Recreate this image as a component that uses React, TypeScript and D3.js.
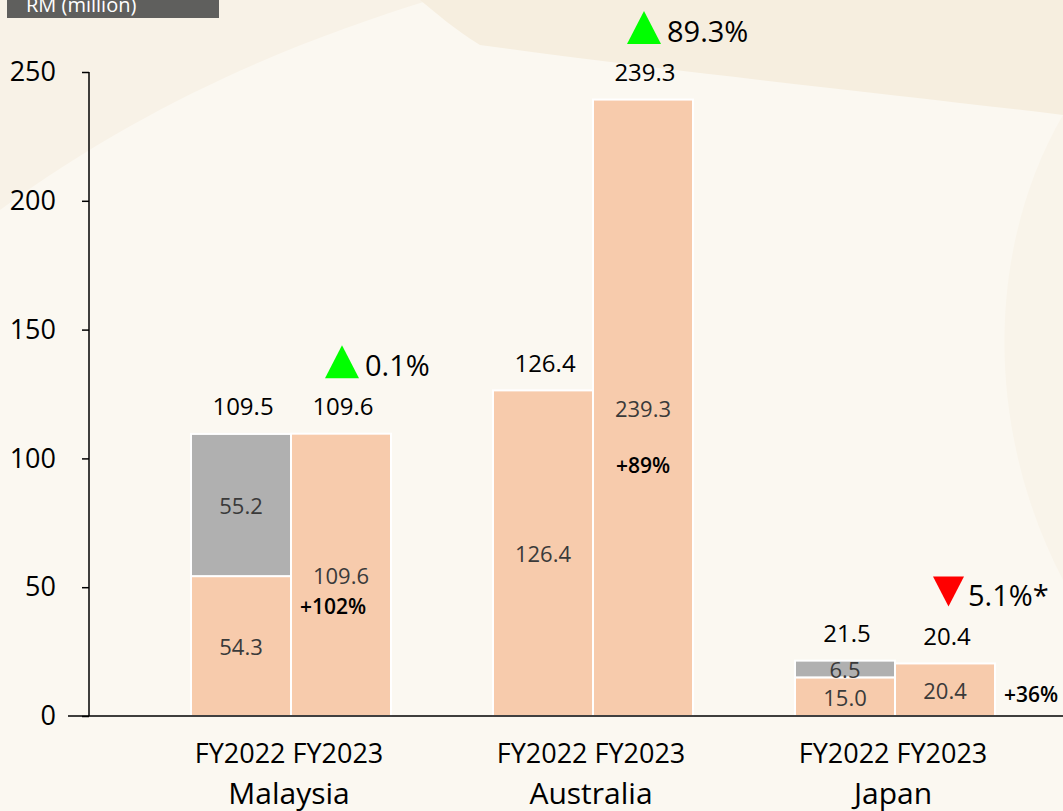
import React, { useRef, useEffect } from 'react'
import * as d3 from 'd3'

const countries = ['Malaysia', 'Australia', 'Japan']
const years = ['FY2022', 'FY2023']
const fy2022Base = [54.3, 126.4, 15.0]
const fy2022Extra = [55.2, 0, 6.5]
const fy2023Base = [109.6, 239.3, 20.4]
const totals2022 = ['109.5', '126.4', '21.5']
const totals2023 = ['109.6', '239.3', '20.4']
const changeText = ['0.1%', '89.3%', '5.1%*']
const changeUp = [true, true, false]
const growthText = ['+102%', '+89%', '+36%']
const yTicks = [0, 50, 100, 150, 200, 250]

const W = 1063
const H = 811
const FONT = '"Open Sans", "Noto Sans", sans-serif'
const PEACH = '#f7cbac'
const GREY = '#b0b0b0'

const App: React.FC = () => {
  const svgRef = useRef<SVGSVGElement>(null)

  useEffect(() => {
    if (!svgRef.current) return
    const svg = d3.select(svgRef.current)
    svg.selectAll('*').remove()

    // 背景
    svg.append('rect').attr('width', W).attr('height', H).attr('fill', '#fbf8f1')
    svg.append('path')
      .attr('d', 'M0,0 L430,0 C300,40 150,100 0,210 Z')
      .attr('fill', '#f8f2e7')
    svg.append('path')
      .attr('d', 'M420,0 L1063,0 L1063,115 C900,95 700,75 480,45 C455,30 435,12 420,0 Z')
      .attr('fill', '#f6eedf')
    svg.append('path')
      .attr('d', 'M1063,115 C990,240 980,420 1063,580 Z')
      .attr('fill', '#f9f4ea')

    const y = d3.scaleLinear().domain([0, 250]).range([716, 72])
    const x = d3.scaleBand().domain(countries).range([140, 1046]).padding(0)
    const xi = d3.scaleBand().domain(years).range([-100, 100]).padding(0)

    // 单位标签
    svg.append('rect').attr('x', 7).attr('y', -2).attr('width', 212).attr('height', 20).attr('fill', '#5f5f5d')
    svg.append('text').attr('x', 26).attr('y', 12).attr('fill', '#ffffff')
      .style('font-family', FONT).style('font-size', '20px').text('RM (million)')

    // y 轴
    const yAxis = svg.append('g')
      .attr('transform', 'translate(89,0)')
      .call(d3.axisLeft(y).tickValues(yTicks).tickSize(7).tickPadding(26))
    yAxis.select('.domain').remove()
    yAxis.selectAll('line').attr('stroke', '#000').attr('stroke-width', 1.5)
    yAxis.selectAll('text')
      .style('font-family', FONT).style('font-size', '27px').attr('fill', '#000')
    svg.append('line').attr('x1', 89).attr('x2', 89).attr('y1', y(250)).attr('y2', y(0))
      .attr('stroke', '#000').attr('stroke-width', 1.5)

    const groups = svg.append('g')

    countries.forEach((c, i) => {
      const cx = (x(c) as number) + x.bandwidth() / 2
      const g = groups.append('g').attr('transform', `translate(${cx},0)`)
      const x22 = xi('FY2022') as number
      const x23 = xi('FY2023') as number
      const bw = xi.bandwidth()

      const segs = [
        { x: x22, y0: 0, y1: fy2022Base[i], fill: PEACH },
        { x: x22, y0: fy2022Base[i], y1: fy2022Base[i] + fy2022Extra[i], fill: GREY },
        { x: x23, y0: 0, y1: fy2023Base[i], fill: PEACH }
      ].filter(s => s.y1 > s.y0)

      g.selectAll('rect.seg').data(segs).enter().append('rect')
        .attr('class', 'seg')
        .attr('x', d => d.x)
        .attr('y', d => y(d.y1))
        .attr('width', bw)
        .attr('height', d => y(d.y0) - y(d.y1))
        .attr('fill', d => d.fill)
        .attr('stroke', '#ffffff')
        .attr('stroke-width', 2)

      // 段内数值
      const inner = (tx: number, ty: number, t: string, bold = false, col = '#3a3a3a') => {
        g.append('text').attr('x', tx).attr('y', ty)
          .attr('text-anchor', 'middle').attr('dominant-baseline', 'central')
          .attr('fill', col)
          .style('font-family', FONT).style('font-size', bold ? '21px' : '22px')
          .style('font-weight', bold ? 600 : 400)
          .text(t)
      }
      inner(x22 + bw / 2, y(fy2022Base[i] / 2), d3.format('.1f')(fy2022Base[i]))
      if (fy2022Extra[i] > 0) {
        inner(x22 + bw / 2, y(fy2022Base[i] + fy2022Extra[i] / 2), d3.format('.1f')(fy2022Extra[i]))
      }
      const mid23 = y(fy2023Base[i] / 2)
      inner(x23 + bw / 2, mid23, d3.format('.1f')(fy2023Base[i]))
      if (i === 0) inner(x23 + bw / 2 - 8, mid23 + 31, growthText[i], true, '#000')
      else if (i === 1) inner(x23 + bw / 2, mid23 + 57, growthText[i], true, '#000')
      else inner(x23 + bw + 36, mid23 + 4, growthText[i], true, '#000')

      // 总计标签
      const top22 = y(fy2022Base[i] + fy2022Extra[i])
      const top23 = y(fy2023Base[i])
      g.append('text').attr('x', x22 + bw / 2 + 2).attr('y', top22 - 28)
        .attr('text-anchor', 'middle').attr('dominant-baseline', 'central')
        .style('font-family', FONT).style('font-size', '24px').style('font-weight', 500).attr('fill', '#000')
        .text(totals2022[i])
      g.append('text').attr('x', x23 + bw / 2 + 2).attr('y', top23 - 28)
        .attr('text-anchor', 'middle').attr('dominant-baseline', 'central')
        .style('font-family', FONT).style('font-size', '24px').style('font-weight', 500).attr('fill', '#000')
        .text(totals2023[i])

      // 变化标记
      const my = top23 - 28 - 44
      const tx0 = 34
      const tri = changeUp[i]
        ? `M${tx0},${my + 16.5} L${tx0 + 17},${my - 16.5} L${tx0 + 34},${my + 16.5} Z`
        : `M${tx0 + 4},${my - 15} L${tx0 + 35},${my - 15} L${tx0 + 19.5},${my + 15} Z`
      g.append('path').attr('d', tri).attr('fill', changeUp[i] ? '#00ff00' : '#ff0000')
      g.append('text').attr('x', tx0 + (changeUp[i] ? 40 : 39)).attr('y', my + 3)
        .attr('dominant-baseline', 'central')
        .style('font-family', FONT).style('font-size', '29px').attr('fill', '#000')
        .text(changeText[i])

      // 分类标签
      g.append('text').attr('x', -2).attr('y', 752)
        .attr('text-anchor', 'middle').attr('dominant-baseline', 'central')
        .style('font-family', FONT).style('font-size', '27px').attr('fill', '#000')
        .text(years.join(' '))
      g.append('text').attr('x', -2).attr('y', 792)
        .attr('text-anchor', 'middle').attr('dominant-baseline', 'central')
        .style('font-family', FONT).style('font-size', '30px').attr('fill', '#000')
        .text(c)
    })

    // x 轴基线
    svg.append('line').attr('x1', 68).attr('x2', W).attr('y1', y(0)).attr('y2', y(0))
      .attr('stroke', '#000').attr('stroke-width', 1.5)
  }, [])

  return (
    <svg
      ref={svgRef}
      width={W}
      height={H}
      style={{ position: 'absolute', left: 0, top: 0, display: 'block' }}
    />
  )
}

export default App
